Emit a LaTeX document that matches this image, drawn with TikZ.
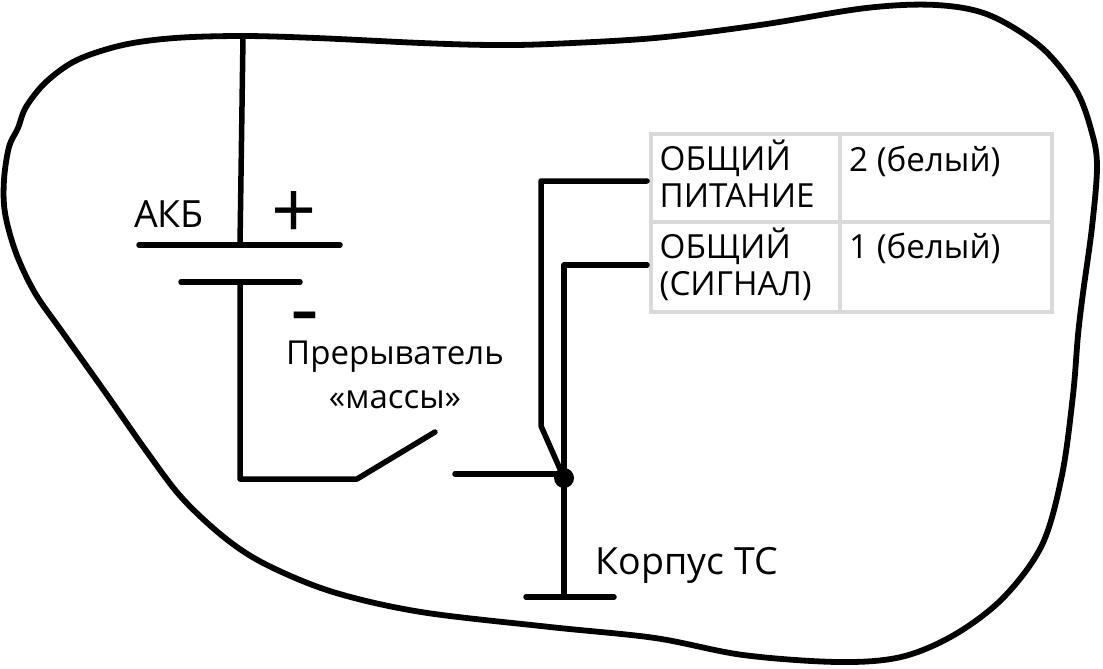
\documentclass[tikz,border=0pt]{standalone}
\usepackage{fontspec}
\setmainfont{Open Sans}
\tikzset{
  wire/.style={line width=5.5pt,line cap=round,line join=round},
  cell/.style={draw=tablegray,line width=4pt,inner sep=0pt,outer sep=0pt,anchor=north west},
  celltext/.style={inner sep=0pt,anchor=base west,align=left,font=\fontsize{33.2}{36.5}\selectfont},
  caption/.style={inner sep=0pt,anchor=base,align=center,font=\fontsize{33}{40}\selectfont},
  bigcaption/.style={inner sep=0pt,anchor=base west,font=\fontsize{37.5}{40}\selectfont}
}
\definecolor{tablegray}{gray}{0.85}
\begin{document}
\begin{tikzpicture}[x=1pt,y=-1pt]
\useasboundingbox (0,0) rectangle (1103,669);

% outline
\draw[line width=5.8pt,line join=round] plot[smooth cycle,tension=0.55] coordinates {
  (18,128) (26,107) (46,82) (77,60) (123,45) (175,38) (242,36) (316,38) (421,43)
  (491,45) (550,44) (655,38) (760,25) (866,8) (936,5) (989,15) (1041,47)
  (1076,90) (1092,133) (1097,167) (1092,227) (1083,293) (1078,335) (1073,395)
  (1062,475) (1042,545) (1003,598) (954,635) (901,657) (838,662) (743,655)
  (655,638) (550,627) (421,612) (333,592) (267,565) (225,538) (182,498)
  (147,452) (105,392) (63,333) (35,293) (16,253) (5,213) (4,180) (9,147)};

% table
\node[cell,minimum width=189pt,minimum height=88pt] (cellA) at (651,134) {};
\node[cell,minimum width=212pt,minimum height=88pt] (cellB) at (840,134) {};
\node[cell,minimum width=189pt,minimum height=90pt] (cellC) at (651,222) {};
\node[cell,minimum width=212pt,minimum height=90pt] (cellD) at (840,222) {};

\node[celltext] (textA) at (659.5,207) {ОБЩИЙ\\ПИТАНИЕ};
\node[celltext] (textB) at (849,171) {2 (белый)};
\node[celltext] (textC) at (659.5,295) {ОБЩИЙ\\(СИГНАЛ)};
\node[celltext] (textD) at (849,258) {1 (белый)};

% battery
\coordinate (top) at (243,37);
\coordinate (plusL) at (139,245);
\coordinate (plusR) at (340,245);
\coordinate (plusM) at (240,245);
\coordinate (minusL) at (181,282);
\coordinate (minusR) at (300,282);
\coordinate (minusM) at (240,282);
\draw[wire] (top) -- (plusM);
\draw[wire] (plusL) -- (plusR);
\draw[wire] (minusL) -- (minusR);

\node[bigcaption] (akb) at (134,227) {АКБ};
\node[inner sep=0pt,font=\fontsize{79}{79}\selectfont] (plus) at (294,215) {+};
\node[inner sep=0pt,font=\fontsize{90}{90}\selectfont] (minus) at (304.5,326) {-};
\node[caption] (breaker) at (395,364) {Прерыватель};
\node[caption] (mass) at (395,408) {«массы»};
\node[bigcaption] (body) at (595.5,574) {Корпус ТС};

% switch and ground
\coordinate (hinge) at (357,479);
\coordinate (corner) at (240,479);
\coordinate (blade) at (435,432);
\coordinate (contact) at (455,474);
\coordinate (tapA) at (647,181);
\coordinate (tapB) at (647,265);
\coordinate (bendA) at (541,181);
\coordinate (kneeA) at (541,426);
\coordinate (bendB) at (564,265);
\coordinate (gnd) at (564,597);
\coordinate (gndL) at (526,597);
\coordinate (gndR) at (614,597);
\node[circle,fill=black,inner sep=0pt,minimum size=20pt] (joint) at (564,478) {};

\draw[wire] (minusM) -- (corner) -- (hinge) -- (blade);
\draw[wire] (contact) -- (contact -| joint);
\draw[wire] (tapA) -- (bendA) -- (kneeA) -- (joint.center);
\draw[wire] (tapB) -- (bendB) -- (gnd);
\draw[wire] (gndL) -- (gndR);
\end{tikzpicture}
\end{document}
